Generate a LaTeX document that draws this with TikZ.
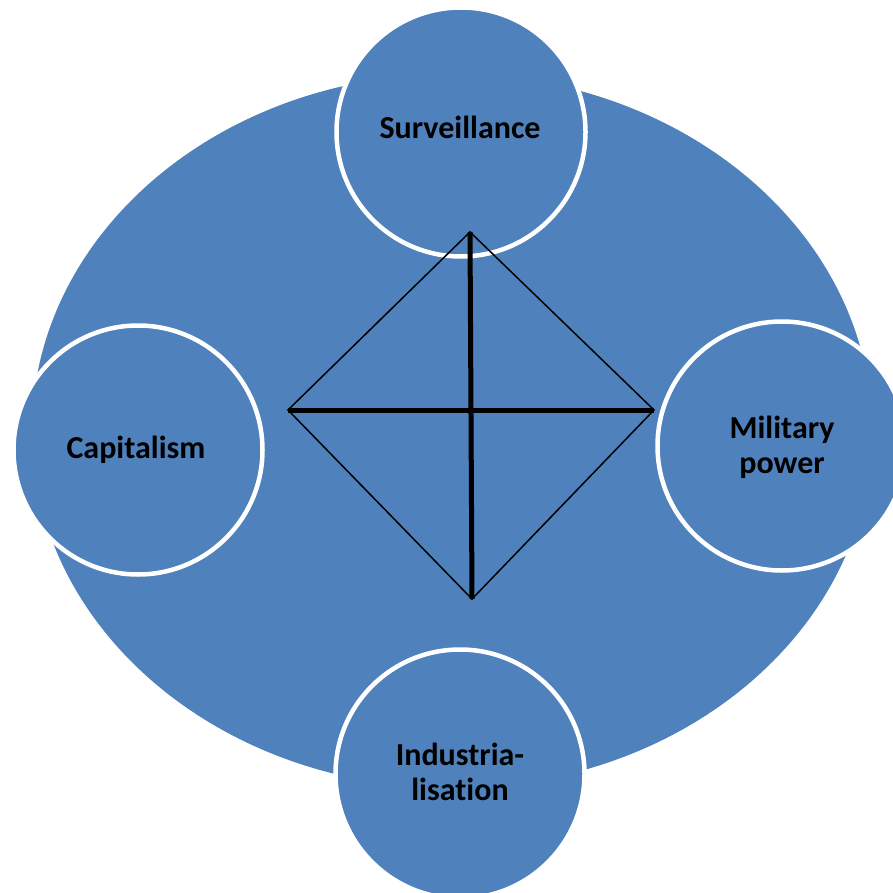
\documentclass[tikz,border=0pt]{standalone}
\usepackage{fontspec}
\setmainfont{Carlito}[Ligatures=NoCommon]
\definecolor{ringblue}{HTML}{4F81BD}
\begin{document}
\begin{tikzpicture}[x=1pt,y=-1pt,
  ring/.style={circle,fill=ringblue,draw=white,line width=4.5pt,minimum size=249pt,inner sep=0pt},
  lbl/.style={font=\fontsize{32}{35}\selectfont\bfseries,text=black,align=center,inner sep=0pt,anchor=base},
  thinln/.style={black,line width=1.5pt},
  thickln/.style={black,line width=5pt}]
\useasboundingbox (0,0) rectangle (893,893);
\begin{scope}
\clip (0,0) rectangle (893,893);
\fill[ringblue] (452,431) ellipse [x radius=420, y radius=357];
\node[ring] (surv) at (461,132) {};
\node[ring] (cap) at (138,450) {};
\node[ring] (mil) at (782,446) {};
\node[ring] (ind) at (460,774) {};
\end{scope}
\coordinate (T) at (470,232);
\coordinate (L) at (288,410);
\coordinate (R) at (654,410);
\coordinate (B) at (472,599);
\draw[thinln] (L) -- (T) -- (R) -- (B) -- cycle;
\draw[thickln] (T) -- (B);
\draw[thickln] (L) -- (R);
\node[lbl] (survT) at (460,139) {Surveillance};
\node[lbl] (capT) at (136,458) {Capitalism};
\node[lbl] (milT) at (782,473) {Military\\power};
\node[lbl] (indT) at (460,800) {Industria-\\lisation};
\end{tikzpicture}
\end{document}
